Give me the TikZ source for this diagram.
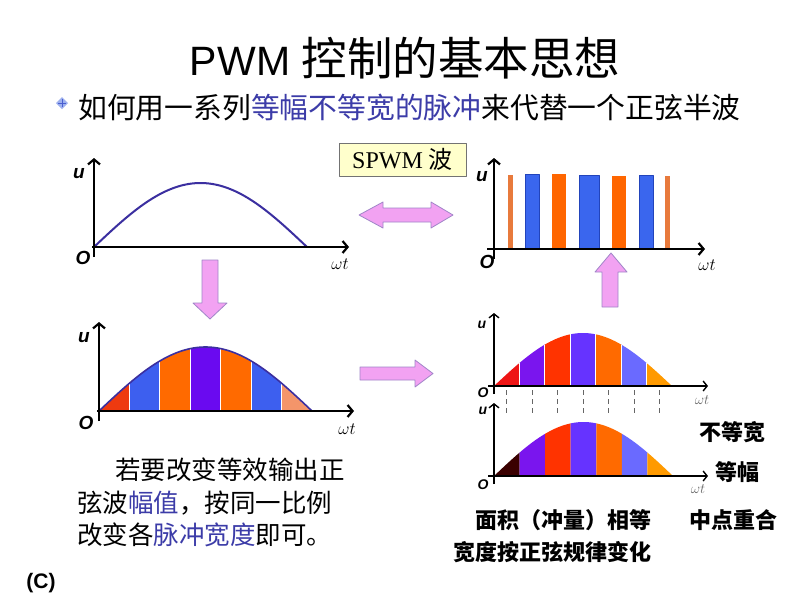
\documentclass[tikz,border=0pt]{standalone}
\usepackage{fontspec}
\setmainfont{Liberation Sans}
\newfontfamily\cjk{Noto Sans CJK SC}
\newfontfamily\serifrm{Liberation Serif}
\usetikzlibrary{arrows.meta}
\definecolor{sinecol}{HTML}{3B2FA0}
\definecolor{vfill}{HTML}{F2A2F2}
\definecolor{vedge}{HTML}{A085C8}
\definecolor{boxfill}{HTML}{FFFFCC}
\definecolor{txtblue}{HTML}{3C3CA8}
\definecolor{porange}{HTML}{FF6600}
\definecolor{pthin}{HTML}{E87A3C}
\definecolor{pblue}{HTML}{3A66EE}
\definecolor{pblueedge}{HTML}{2244BB}
\definecolor{la}{HTML}{EE3A10}
\definecolor{lb}{HTML}{3D5FEF}
\definecolor{lc}{HTML}{FF6A00}
\definecolor{ld}{HTML}{6A0AF0}
\definecolor{le}{HTML}{F4956A}
\definecolor{ra}{HTML}{EE1515}
\definecolor{rb}{HTML}{7A15EE}
\definecolor{rc}{HTML}{FF3300}
\definecolor{rd}{HTML}{6633FF}
\definecolor{re}{HTML}{FF6A00}
\definecolor{rf}{HTML}{6A6AFF}
\definecolor{rg}{HTML}{FF9A00}
\definecolor{rz}{HTML}{3A0000}
\definecolor{bulletfill}{HTML}{9DB0EE}
\definecolor{bulletcross}{HTML}{4A5FD0}
\newcommand\sinestripes[6]{% ox, oy, xscale, amp, colors, white separators (1/0)
  \begin{scope}[shift={(#1,#2)}, xscale=#3, yscale=-#4]
    \foreach \cc [count=\i from 0] in {#5} {
      \pgfmathsetmacro\aa{\i*180/7}
      \pgfmathsetmacro\bb{(\i+1)*180/7}
      \fill[\cc] (\aa,0) -- plot[domain=\aa:\bb,samples=14] (\x,{sin(\x)}) -- (\bb,0) -- cycle;
    }
    \ifnum#6=1
      \foreach \i in {1,...,6} {
        \pgfmathsetmacro\aa{\i*180/7}
        \draw[white, line width=1.1pt] (\aa,0) -- (\aa,{sin(\aa)});
      }
    \fi
  \end{scope}}
\begin{document}
\begin{tikzpicture}[x=1pt,y=-1pt, line join=round,
  axis/.style={line width=2.2pt, -{Straight Barb[length=5pt,width=12pt]}},
  axisthin/.style={line width=1.4pt, -{Straight Barb[length=4pt,width=10pt]}},
  yaxis/.style={line width=2.2pt, -{Straight Barb[length=5pt,width=12pt]}},
  blockarrow/.style={fill=vfill, draw=vedge, line width=0.8pt},
  ulab/.style={font=\bfseries\itshape\fontsize{19}{19}\selectfont, inner sep=0pt},
  ulabs/.style={font=\bfseries\itshape\fontsize{14}{14}\selectfont, inner sep=0pt},
  wt/.style={font=\fontsize{19}{19}\selectfont, inner sep=0pt},
  wts/.style={font=\fontsize{15}{15}\selectfont, inner sep=0pt, text=black!60},
  bodytxt/.style={font=\cjk\fontsize{25.5}{26}\selectfont, inner sep=0pt, anchor=west},
  boldlab/.style={font=\cjk\bfseries\fontsize{22}{22}\selectfont, inner sep=0pt}
]
\useasboundingbox[fill=white] (0,0) rectangle (800,600);

% ---- title
\node[inner sep=0pt] (title) at (405,58)
  {{\fontsize{41}{46}\selectfont PWM }{\cjk\fontsize{45.5}{50}\selectfont 控制的基本思想}};

% ---- subtitle with bullet
\fill[bulletfill] (62,97) -- (68,103) -- (62,109) -- (56,103) -- cycle;
\draw[bulletcross, line width=1pt] (62,99) -- (62,107) (58,103) -- (66,103);
\node[inner sep=0pt, anchor=west] (sub) at (78,108)
  {\cjk\fontsize{28.8}{30}\selectfont 如何用一系列\textcolor{txtblue}{等幅不等宽的脉冲}来代替一个正弦半波};

% ---- top-left plot
\draw[sinecol, line width=2pt] plot[domain=0:180,samples=80] ({94+\x/180*213},{247-64*sin(\x)});
\draw[axis] (92,247) -- (349,247);
\draw[yaxis] (94,257) -- (94,158);
\node[ulab] (u1) at (79,174) {u};
\node[ulab] (o1) at (83,258) {O};
\node[wt] (w1) at (340,264) {$\omega t$};

% ---- SPWM box
\node[draw=black!55, fill=boxfill, line width=0.8pt, minimum width=127pt, minimum height=33pt, inner sep=0pt] (spwm) at (402.5,159.5)
  {\serifrm\fontsize{24}{24}\selectfont SPWM {\cjk 波}};

% ---- double arrow
\draw[blockarrow] (359,215) -- (383,202) -- (383,208) -- (431,208) -- (431,202) -- (453,215)
  -- (431,228) -- (431,222) -- (383,222) -- (383,228) -- cycle;

% ---- top-right plot (pulses)
\fill[pthin] (508,175) rectangle (513,249);
\filldraw[fill=pblue, draw=pblueedge, line width=0.6pt] (525,174) rectangle (539,249);
\fill[porange] (552,174) rectangle (566,249);
\filldraw[fill=pblue, draw=pblueedge, line width=0.6pt] (579,175) rectangle (599,249);
\fill[porange] (612,176) rectangle (626,249);
\filldraw[fill=pblue, draw=pblueedge, line width=0.6pt] (639,175) rectangle (653,249);
\fill[pthin] (665,176) rectangle (670,249);
\draw[axis] (487,249) -- (705,249);
\draw[yaxis] (494,259) -- (494,158);
\node[ulab] (u2) at (482,177) {u};
\node[ulab] (o2) at (487,262) {O};
\node[wt] (w2) at (707,265) {$\omega t$};

% ---- down arrow
\draw[blockarrow] (202,260) -- (218,260) -- (218,303) -- (227,303) -- (210,319) -- (193,303) -- (202,303) -- cycle;

% ---- up arrow
\draw[blockarrow] (602,307) -- (602,272) -- (595,272) -- (611,253) -- (627,272) -- (618,272) -- (618,307) -- cycle;

% ---- bottom-left plot
\sinestripes{99}{411}{1.1833}{64}{la,lb,lc,ld,lc,lb,le}{1}
\draw[sinecol, line width=1.6pt] plot[domain=0:180,samples=80] ({99+\x/180*213},{411-64*sin(\x)});
\draw[axis] (97,411) -- (354,411);
\draw[yaxis] (99,421) -- (99,322);
\node[ulab] (u3) at (84,338) {u};
\node[ulab] (o3) at (86,423) {O};
\node[wt] (w3) at (347,429) {$\omega t$};

% ---- right arrow
\draw[blockarrow] (360,367) -- (415,367) -- (415,360) -- (433,373.5) -- (415,387) -- (415,380) -- (360,380) -- cycle;

% ---- bottom-right upper plot
\sinestripes{494}{386}{0.9889}{53}{ra,rb,rc,rd,re,rf,rg}{1}
\draw[axisthin] (488,386) -- (708,386);
\draw[axisthin] (494,394) -- (494,313);
\node[ulabs] (u4) at (482,325) {u};
\node[ulabs] (o4) at (483,393) {O};
\node[wts] (w4) at (702,400) {$\omega t$};
\foreach \xx in {506.5,532,557.5,583,608.5,634,659.5}
  \draw[black!60, line width=0.9pt, dash pattern=on 5pt off 4pt] (\xx,390) -- (\xx,415);

% ---- bottom-right lower plot
\sinestripes{494}{476}{0.9944}{54}{rz,rb,rc,rd,re,rf,rg}{0}
\draw[axisthin] (488,476) -- (708,476);
\draw[axisthin] (494,484) -- (494,403);
\node[ulabs] (u5) at (483,411) {u};
\node[ulabs] (o5) at (483,485) {O};
\node[wts] (w5) at (698,489) {$\omega t$};

% ---- right-side labels
\node[boldlab] (l1) at (732,432) {不等宽};
\node[boldlab] (l2) at (737,472) {等幅};
\node[boldlab] (l3) at (733,520) {中点重合};
\node[boldlab] (l4) at (563,520) {面积（冲量）相等};
\node[boldlab] (l5) at (552,552) {宽度按正弦规律变化};

% ---- bottom-left text
\node[bodytxt] (t1) at (115,470) {若要改变等效输出正};
\node[bodytxt] (t2) at (77,503) {弦波\textcolor{txtblue}{幅值}，按同一比例};
\node[bodytxt] (t3) at (77,535) {改变各\textcolor{txtblue}{脉冲宽度}即可。};

% ---- corner mark
\node[font=\bfseries\fontsize{21}{21}\selectfont, inner sep=0pt] (cmark) at (41,583) {(C)};
\end{tikzpicture}
\end{document}
